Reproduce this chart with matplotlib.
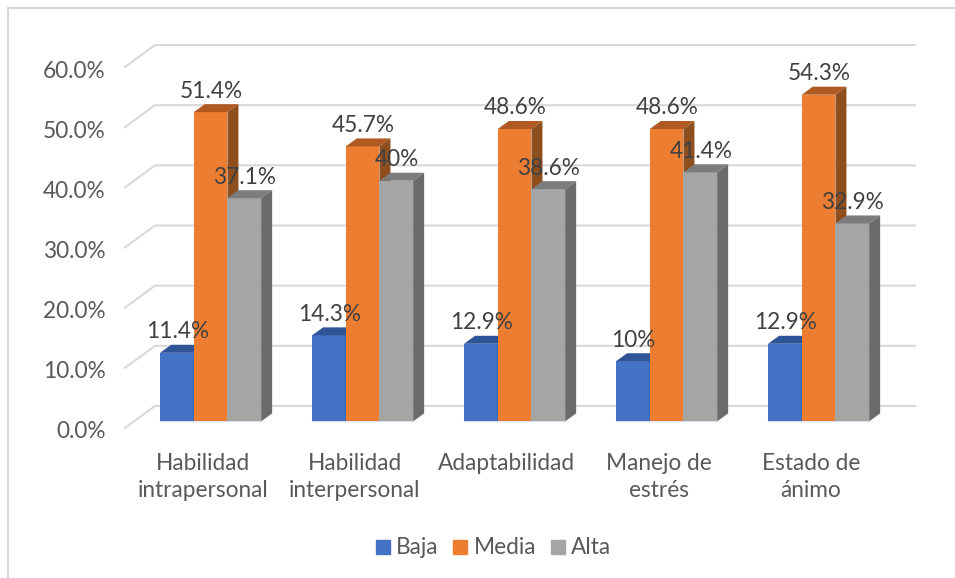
import matplotlib
matplotlib.use("Agg")
import matplotlib.pyplot as plt
from matplotlib.patches import Polygon
from matplotlib.lines import Line2D
from matplotlib.transforms import ScaledTranslation

plt.rcParams['font.family'] = ['Lato', 'DejaVu Sans']

categorias = ["Habilidad\nintrapersonal", "Habilidad\ninterpersonal", "Adaptabilidad",
              "Manejo de\nestrés", "Estado de\nánimo"]
baja = [11.4, 14.3, 12.9, 10.0, 12.9]
media = [51.4, 45.7, 48.6, 48.6, 54.3]
alta = [37.1, 40.0, 38.6, 41.4, 32.9]
etiq_baja = ["11.4%", "14.3%", "12.9%", "10%", "12.9%"]
etiq_media = ["51.4%", "45.7%", "48.6%", "48.6%", "54.3%"]
etiq_alta = ["37.1%", "40%", "38.6%", "41.4%", "32.9%"]
ticks_y = [0, 10, 20, 30, 40, 50, 60]

W, H = 955, 578
fs = 16.3
fig = plt.figure(figsize=(W / 100, H / 100), dpi=100)
# eje en pixeles de la imagen: x 125-885, y 428-67
ax = fig.add_axes([125 / W, 1 - 428 / H, 760 / W, 361 / H])
ax.set_xlim(0, 5)
ax.set_ylim(0, 60)
for s in ax.spines.values():
    s.set_visible(False)

px = 5 / 760      # un pixel en unidades x
py = 60 / 361     # un pixel en unidades y

# piso y paredes
gris = "#D9D9D9"
for t in ticks_y:
    ax.plot([0, 30 * px, 5 + 30 * px], [t, t + 22 * py, t + 22 * py], color=gris, lw=1.5,
            clip_on=False, zorder=1, solid_joinstyle="miter")

ancho = 33.7 * px
off_x = 9.6 * px     # la barra empieza un poco adentro del piso
off_y = 6.6 * py
prof_x = 11 * px
prof_y = 8 * py

series = [
    (baja, etiq_baja, "#4472C4", "#2F5597", "#2A4D88", "Baja"),
    (media, etiq_media, "#ED7D31", "#B05A22", "#8F4E1E", "Media"),
    (alta, etiq_alta, "#A5A5A5", "#7C7C7C", "#6B6B6B", "Alta"),
]

for n, (vals, etiq, c, c_top, c_lado, nombre) in enumerate(series):
    for i, v in enumerate(vals):
        x0 = i + 0.5 + off_x + (n - 1.5) * ancho
        y0 = off_y
        y1 = v + off_y
        ax.bar(x0, v, width=ancho, bottom=y0, align="edge", color=c, zorder=3 + n,
               clip_on=False)
        ax.add_patch(Polygon([(x0, y1), (x0 + ancho, y1), (x0 + ancho + prof_x, y1 + prof_y),
                              (x0 + prof_x, y1 + prof_y)], color=c_top, lw=0, zorder=3 + n,
                             clip_on=False))
        ax.add_patch(Polygon([(x0 + ancho, y0), (x0 + ancho + prof_x, y0 + prof_y),
                              (x0 + ancho + prof_x, y1 + prof_y), (x0 + ancho, y1)],
                             color=c_lado, lw=0, zorder=3 + n, clip_on=False))
        ax.text(x0 + ancho / 2 + 0.6 * px, y1 + 21 * py, etiq[i], ha="center", va="center",
                fontsize=fs, color="#404040", zorder=10)

# linea clara bajo las barras
for i in range(5):
    x0 = i + 0.5 + off_x - 1.5 * ancho
    ax.plot([x0, x0 + 3 * ancho], [off_y, off_y], color="#D9E2F3", lw=1, zorder=2.5,
            clip_on=False)

ax.set_yticks(ticks_y)
ax.set_yticklabels(["%.1f%%" % t for t in ticks_y], fontsize=fs, color="#595959")
ax.set_xticks([i + 0.5 for i in range(5)])
ax.set_xticklabels(categorias, fontsize=fs, color="#595959", linespacing=1.38)
ax.tick_params(axis="both", length=0)
ax.tick_params(axis="y", pad=14)
ax.tick_params(axis="x", pad=18)
corr = ScaledTranslation(2 / 100, 0, fig.dpi_scale_trans)
for lab in ax.get_xticklabels():
    lab.set_transform(lab.get_transform() + corr)
corr_y = ScaledTranslation(0, -2 / 100, fig.dpi_scale_trans)
for lab in ax.get_yticklabels():
    lab.set_transform(lab.get_transform() + corr_y)

handles = [Line2D([], [], marker="s", ls="", ms=10, color=s[2], label=s[5]) for s in series]
fig.legend(handles=handles, ncol=3, loc="center", bbox_to_anchor=(493 / W, 1 - 548 / H),
           frameon=False, fontsize=fs, labelcolor="#595959", handlelength=0.7,
           handletextpad=0.25, columnspacing=0.6)

# marco del grafico
fig.add_artist(Line2D([8 / W, 8 / W], [0, 1 - 8 / H], color=gris, lw=1.5))
fig.add_artist(Line2D([8 / W, 1], [1 - 8 / H, 1 - 8 / H], color=gris, lw=1.5))

fig.savefig("out.png", dpi=100)
